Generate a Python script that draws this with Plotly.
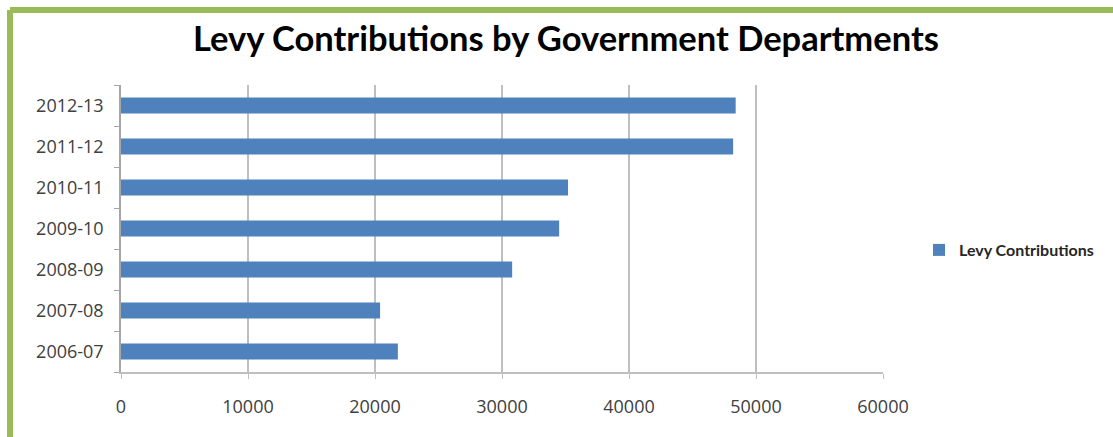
import plotly.graph_objects as go

# Financial years, bottom to top
years = ["2006-07", "2007-08", "2008-09", "2009-10", "2010-11", "2011-12", "2012-13"]
levy_contributions = [21800, 20400, 30800, 34500, 35200, 48200, 48400]
x_ticks = [0, 10000, 20000, 30000, 40000, 50000, 60000]

W, H = 1113, 437
M_L, M_R, M_T, M_B = 121, 230, 85, 65
PW, PH = W - M_L - M_R, H - M_T - M_B


def px_x(p):
    return (p - M_L) / PW


def px_y(p):
    return (H - M_B - p) / PH


BAR = "#4F81BD"
GRID = "#BFBFBF"
FRAME = "#9BBB59"
TICK_FONT = dict(family="Open Sans", size=18, color="#404040")

fig = go.Figure(
    go.Bar(
        x=levy_contributions,
        y=years,
        orientation="h",
        name="<b>Levy Contributions</b>",
        marker=dict(color=BAR, line=dict(width=0)),
    )
)

fig.update_layout(
    width=W,
    height=H,
    margin=dict(l=M_L, r=M_R, t=M_T, b=M_B, pad=0),
    paper_bgcolor="white",
    plot_bgcolor="white",
    bargap=0.61,
    title=dict(
        text="<b>Levy Contributions by Government Departments</b>",
        font=dict(family="Lato", size=34.5, color="#000000"),
        x=566 / W,
        xanchor="center",
        xref="container",
        y=1 - 39 / H,
        yanchor="middle",
        yref="container",
    ),
    showlegend=True,
    legend=dict(
        x=px_x(919),
        y=px_y(250),
        xanchor="left",
        yanchor="middle",
        font=dict(family="Lato", size=16, color="#262626"),
        itemwidth=30,
        bgcolor="rgba(0,0,0,0)",
    ),
    xaxis=dict(
        range=[0, 60000],
        tickvals=x_ticks,
        ticktext=[str(v) for v in x_ticks],
        showgrid=True,
        gridcolor=GRID,
        gridwidth=1.5,
        zeroline=False,
        showline=True,
        linecolor=GRID,
        linewidth=1.5,
        ticks="outside",
        ticklen=5,
        tickcolor=GRID,
        tickfont=TICK_FONT,
        ticklabelstandoff=13,
        fixedrange=True,
    ),
    yaxis=dict(
        type="category",
        categoryorder="array",
        categoryarray=years,
        showgrid=False,
        zeroline=False,
        showline=True,
        linecolor="#A6A6A6",
        linewidth=1.5,
        ticks="outside",
        tickson="boundaries",
        ticklen=5,
        tickcolor="#A6A6A6",
        tickfont=TICK_FONT,
        ticklabelstandoff=12,
        fixedrange=True,
    ),
    shapes=[
        # green chart frame (top and left edges)
        dict(type="line", xref="paper", yref="paper",
             x0=px_x(10), x1=px_x(W + 5), y0=px_y(10), y1=px_y(10),
             line=dict(color=FRAME, width=6)),
        dict(type="line", xref="paper", yref="paper",
             x0=px_x(10), x1=px_x(10), y0=px_y(10), y1=px_y(H + 5),
             line=dict(color=FRAME, width=6)),
    ],
)

fig.write_html("out.html")
